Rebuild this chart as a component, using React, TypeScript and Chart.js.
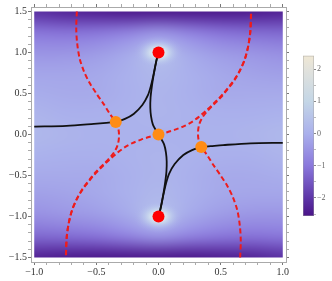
import React, { useEffect, useRef } from 'react';
import { Chart, registerables } from 'chart.js';
Chart.register(...registerables);

// ---------- background field ----------
const fieldX = [-1, -0.75, -0.5, -0.25, 0, 0.25, 0.5, 0.75, 1];
const fieldY = [1.5, 1.25, 1, 0.75, 0.5, 0.25, 0, -0.25, -0.5, -0.75, -1, -1.25, -1.5];
const fieldValues = [
  [-2.1, -2.3, -2.4, -2.5, -2.5, -2.5, -2.5, -2.45, -2.35],
  [-1.05, -1.1, -1.05, -0.85, -0.55, -0.85, -1.1, -1.2, -1.25],
  [-0.5, -0.5, -0.4, -0.15, 0.4, -0.15, -0.4, -0.5, -0.6],
  [-0.2, -0.2, -0.15, 0.0, 0.2, 0.0, -0.15, -0.25, -0.3],
  [-0.05, -0.1, -0.1, 0.0, 0.1, 0.0, -0.1, -0.1, -0.1],
  [0.1, 0.0, 0.0, 0.05, 0.1, 0.05, 0.0, 0.0, 0.05],
  [0.2, 0.1, 0.05, 0.05, 0.05, 0.05, 0.05, 0.1, 0.2],
  [0.05, 0.0, 0.0, 0.05, 0.1, 0.05, 0.0, 0.0, 0.1],
  [-0.1, -0.1, -0.1, 0.0, 0.1, 0.0, -0.1, -0.1, -0.05],
  [-0.3, -0.25, -0.15, 0.0, 0.2, 0.0, -0.15, -0.2, -0.2],
  [-0.6, -0.5, -0.4, -0.15, 0.4, -0.15, -0.4, -0.5, -0.5],
  [-1.25, -1.2, -1.1, -0.85, -0.55, -0.85, -1.05, -1.1, -1.05],
  [-2.35, -2.45, -2.5, -2.5, -2.5, -2.5, -2.4, -2.3, -2.1],
];

// colour scale
const cmapValues = [-2.56, -2.0, -1.0, 0.0, 1.0, 2.0, 2.41];
const cmapColors = ['#4a1488', '#5e36a8', '#8a78dc', '#aab0ec', '#c4d6e6', '#e2e2dc', '#f0e8d4'];
const colorbarTicks = [-2, -1, 0, 1, 2];
const colorbarMinor = [-2.5, -1.5, -0.5, 0.5, 1.5];

// ---------- points ----------
const zerosX = [0, 0];
const zerosY = [1, -1];
const saddlesX = [-0.344, 0, 0.344];
const saddlesY = [0.152, 0, -0.152];

// ---------- black curves ----------
const blackTailLeft: number[][] = [[-1, 0.097], [-0.74, 0.105], [-0.52, 0.129], [-0.42, 0.142], [-0.344, 0.152]];
const blackTailRight: number[][] = [[0.344, -0.152], [0.42, -0.142], [0.52, -0.129], [0.74, -0.108], [1, -0.102]];
const blackLeftToTop: number[][] = [[-0.344, 0.152], [-0.27, 0.19], [-0.2, 0.25], [-0.13, 0.36], [-0.085, 0.48], [-0.06, 0.6], [-0.04, 0.73], [-0.02, 0.88], [0, 1]];
const blackRightToBottom: number[][] = [[0.344, -0.152], [0.27, -0.19], [0.2, -0.25], [0.13, -0.36], [0.085, -0.48], [0.06, -0.6], [0.04, -0.73], [0.02, -0.88], [0, -1]];
const blackCenterToTop: number[][] = [[0, 0], [-0.02, 0.05], [-0.045, 0.12], [-0.06, 0.22], [-0.066, 0.33], [-0.064, 0.45], [-0.055, 0.57], [-0.042, 0.7], [-0.025, 0.84], [-0.01, 0.95], [0, 1]];
const blackCenterToBottom: number[][] = [[0, 0], [0.02, -0.05], [0.045, -0.12], [0.06, -0.22], [0.066, -0.33], [0.064, -0.45], [0.055, -0.57], [0.042, -0.7], [0.025, -0.84], [0.01, -0.95], [0, -1]];

// ---------- red dashed curves ----------
const redTopLeft: number[][] = [[-0.657, 1.5], [-0.662, 1.3], [-0.655, 1.12], [-0.635, 0.93], [-0.6, 0.77], [-0.555, 0.63], [-0.5, 0.5], [-0.445, 0.38], [-0.395, 0.26], [-0.344, 0.152]];
const redLeftDown: number[][] = [[-0.344, 0.152], [-0.322, 0.06], [-0.318, -0.03], [-0.327, -0.12], [-0.35, -0.2], [-0.39, -0.28], [-0.44, -0.36], [-0.5, -0.45], [-0.555, -0.55], [-0.61, -0.66], [-0.655, -0.78], [-0.695, -0.92], [-0.722, -1.08], [-0.738, -1.25], [-0.745, -1.5]];
const redCenterLeft: number[][] = [[0, 0], [-0.07, -0.028], [-0.14, -0.062], [-0.21, -0.105], [-0.27, -0.155], [-0.325, -0.215], [-0.375, -0.28], [-0.425, -0.35], [-0.475, -0.425], [-0.525, -0.505], [-0.57, -0.59], [-0.615, -0.68], [-0.657, -0.785], [-0.696, -0.925], [-0.723, -1.085], [-0.739, -1.255], [-0.746, -1.5]];
const redBottomRight: number[][] = [[0.657, -1.5], [0.662, -1.3], [0.655, -1.12], [0.635, -0.93], [0.6, -0.77], [0.555, -0.63], [0.5, -0.5], [0.445, -0.38], [0.395, -0.26], [0.344, -0.152]];
const redRightUp: number[][] = [[0.344, -0.152], [0.322, -0.06], [0.318, 0.03], [0.327, 0.12], [0.35, 0.2], [0.39, 0.28], [0.44, 0.36], [0.5, 0.45], [0.555, 0.55], [0.61, 0.66], [0.655, 0.78], [0.695, 0.92], [0.722, 1.08], [0.738, 1.25], [0.745, 1.5]];
const redCenterRight: number[][] = [[0, 0], [0.07, 0.028], [0.14, 0.062], [0.21, 0.105], [0.27, 0.155], [0.325, 0.215], [0.375, 0.28], [0.425, 0.35], [0.475, 0.425], [0.525, 0.505], [0.57, 0.59], [0.615, 0.68], [0.657, 0.785], [0.696, 0.925], [0.723, 1.085], [0.739, 1.255], [0.746, 1.5]];

// axis ticks
const xMajorTicks = [-1, -0.5, 0, 0.5, 1];
const yMajorTicks = [-1.5, -1, -0.5, 0, 0.5, 1, 1.5];

const X_MIN = -1.026, X_MAX = 1.026, Y_MIN = -1.555, Y_MAX = 1.555;
const FONT = 'Liberation Serif';
const GLOW_R = 0.2;

function hexToRgb(h: string) {
  const n = parseInt(h.slice(1), 16);
  return [(n >> 16) & 255, (n >> 8) & 255, n & 255];
}
function colorAt(v: number) {
  const vs = cmapValues;
  if (v <= vs[0]) return hexToRgb(cmapColors[0]);
  if (v >= vs[vs.length - 1]) return hexToRgb(cmapColors[vs.length - 1]);
  for (let i = 0; i < vs.length - 1; i++) {
    if (v >= vs[i] && v <= vs[i + 1]) {
      const t = (v - vs[i]) / (vs[i + 1] - vs[i]);
      const a = hexToRgb(cmapColors[i]);
      const b = hexToRgb(cmapColors[i + 1]);
      return [0, 1, 2].map((k) => Math.round(a[k] + (b[k] - a[k]) * t));
    }
  }
  return [0, 0, 0];
}

function minorTicks(lo: number, hi: number, step: number) {
  const out: number[] = [];
  const n = Math.round((hi - lo) / step);
  for (let i = 0; i <= n; i++) out.push(Math.round((lo + i * step) * 1000) / 1000);
  return out;
}
const isMajor = (v: number, majors: number[]) => majors.some((m) => Math.abs(m - v) < 1e-6);
const fmt = (v: number) => (Math.abs(v) < 1e-9 ? '0.0' : v.toFixed(1).replace('-', '\u2212'));

const heatmapPlugin = {
  id: 'heatmap',
  beforeDatasetsDraw(chart: any) {
    const { ctx } = chart;
    const xs = chart.scales.x;
    const ys = chart.scales.y;
    const nx = fieldX.length;
    const ny = fieldY.length;
    const off = document.createElement('canvas');
    off.width = nx;
    off.height = ny;
    const octx = off.getContext('2d')!;
    const img = octx.createImageData(nx, ny);
    for (let r = 0; r < ny; r++) {
      for (let c = 0; c < nx; c++) {
        const col = colorAt(fieldValues[r][c]);
        const idx = (r * nx + c) * 4;
        img.data[idx] = col[0];
        img.data[idx + 1] = col[1];
        img.data[idx + 2] = col[2];
        img.data[idx + 3] = 255;
      }
    }
    octx.putImageData(img, 0, 0);
    const hx = (fieldX[1] - fieldX[0]) / 2;
    const hy = (fieldY[0] - fieldY[1]) / 2;
    const left = xs.getPixelForValue(fieldX[0] - hx);
    const right = xs.getPixelForValue(fieldX[nx - 1] + hx);
    const top = ys.getPixelForValue(fieldY[0] + hy);
    const bottom = ys.getPixelForValue(fieldY[ny - 1] - hy);
    const cl = xs.getPixelForValue(fieldX[0]);
    const cr = xs.getPixelForValue(fieldX[nx - 1]);
    const ct = ys.getPixelForValue(fieldY[0]);
    const cb = ys.getPixelForValue(fieldY[ny - 1]);
    ctx.save();
    ctx.beginPath();
    ctx.rect(cl, ct, cr - cl, cb - ct);
    ctx.clip();
    ctx.imageSmoothingEnabled = true;
    (ctx as any).imageSmoothingQuality = 'high';
    ctx.drawImage(off, left, top, right - left, bottom - top);
    for (let i = 0; i < zerosX.length; i++) {
      const cx = xs.getPixelForValue(zerosX[i]);
      const cy = ys.getPixelForValue(zerosY[i]);
      const rx = xs.getPixelForValue(zerosX[i] + GLOW_R) - cx;
      const ry = cy - ys.getPixelForValue(zerosY[i] + GLOW_R);
      ctx.save();
      ctx.translate(cx, cy);
      ctx.scale(1, ry / rx);
      const g = ctx.createRadialGradient(0, 0, 0, 0, 0, rx);
      g.addColorStop(0, 'rgba(236,242,238,1)');
      g.addColorStop(0.3, 'rgba(218,232,238,0.9)');
      g.addColorStop(0.55, 'rgba(196,212,238,0.55)');
      g.addColorStop(0.8, 'rgba(180,190,238,0.2)');
      g.addColorStop(1, 'rgba(170,176,236,0)');
      ctx.fillStyle = g;
      ctx.beginPath();
      ctx.arc(0, 0, rx, 0, Math.PI * 2);
      ctx.fill();
      ctx.restore();
    }
    ctx.restore();
  },
};

const colorbarPlugin = {
  id: 'colorbar',
  beforeDatasetsDraw(chart: any) {
    const { ctx, chartArea } = chart;
    const ys = chart.scales.y;
    const g = ctx.createLinearGradient(0, chartArea.bottom, 0, chartArea.top);
    const h = chartArea.bottom - chartArea.top;
    cmapValues.forEach((v, i) => {
      const p = (chartArea.bottom - ys.getPixelForValue(v)) / h;
      g.addColorStop(Math.min(1, Math.max(0, p)), cmapColors[i]);
    });
    ctx.save();
    ctx.fillStyle = g;
    ctx.fillRect(chartArea.left, chartArea.top, chartArea.right - chartArea.left, h);
    ctx.strokeStyle = 'rgba(160,160,160,0.7)';
    ctx.lineWidth = 0.6;
    ctx.strokeRect(chartArea.left + 0.3, chartArea.top + 0.3, chartArea.right - chartArea.left - 0.6, h - 0.6);
    ctx.restore();
  },
};

const toPts = (arr: number[][]) => arr.map((p) => ({ x: p[0], y: p[1] }));
const lineDs = (arr: number[][], color: string, dashed: boolean, order: number) => ({
  type: 'scatter' as const,
  data: toPts(arr),
  showLine: true,
  pointRadius: 0,
  pointHoverRadius: 0,
  borderColor: color,
  borderWidth: dashed ? 2 : 1.8,
  borderDash: dashed ? [5, 3] : [],
  tension: 0.3,
  fill: false,
  order,
});

function axisX(position: 'bottom' | 'top', showLabels: boolean, size: number) {
  const ticksAll = minorTicks(-1, 1, 0.1);
  return {
    type: 'linear' as const,
    position,
    min: X_MIN,
    max: X_MAX,
    afterBuildTicks: (s: any) => {
      s.ticks = ticksAll.map((v) => ({ value: v }));
    },
    afterFit: (s: any) => {
      s.height = size;
    },
    ticks: {
      autoSkip: false,
      maxRotation: 0,
      padding: 1,
      color: '#333',
      font: { family: FONT, size: 10 },
      callback: (v: any) => (showLabels && isMajor(Number(v), xMajorTicks) ? fmt(Number(v)) : ''),
    },
    grid: {
      drawOnChartArea: false,
      drawTicks: true,
      tickLength: 3,
      tickColor: (c: any) => (c.tick && isMajor(c.tick.value, xMajorTicks) ? '#777' : '#aaa'),
    },
    border: { display: true, color: '#aaa', width: 1 },
  };
}
function axisY(position: 'left' | 'right', showLabels: boolean, size: number) {
  const ticksAll = minorTicks(-1.5, 1.5, 0.1);
  return {
    type: 'linear' as const,
    position,
    min: Y_MIN,
    max: Y_MAX,
    afterBuildTicks: (s: any) => {
      s.ticks = ticksAll.map((v) => ({ value: v }));
    },
    afterFit: (s: any) => {
      s.width = size;
    },
    ticks: {
      autoSkip: false,
      padding: 1,
      color: '#333',
      font: { family: FONT, size: 10 },
      callback: (v: any) => (showLabels && isMajor(Number(v), yMajorTicks) ? fmt(Number(v)) : ''),
    },
    grid: {
      drawOnChartArea: false,
      drawTicks: true,
      tickLength: 3,
      tickColor: (c: any) => (c.tick && isMajor(c.tick.value, yMajorTicks) ? '#777' : '#aaa'),
    },
    border: { display: true, color: '#aaa', width: 1 },
  };
}

export default function App() {
  const mainRef = useRef<HTMLCanvasElement>(null);
  const cbRef = useRef<HTMLCanvasElement>(null);

  useEffect(() => {
    const datasets: any[] = [
      lineDs(redTopLeft, '#ee1c1c', true, 3),
      lineDs(redLeftDown, '#ee1c1c', true, 3),
      lineDs(redCenterLeft, '#ee1c1c', true, 3),
      lineDs(redBottomRight, '#ee1c1c', true, 3),
      lineDs(redRightUp, '#ee1c1c', true, 3),
      lineDs(redCenterRight, '#ee1c1c', true, 3),
      lineDs(blackTailLeft, '#111111', false, 2),
      lineDs(blackTailRight, '#111111', false, 2),
      lineDs(blackLeftToTop, '#111111', false, 2),
      lineDs(blackRightToBottom, '#111111', false, 2),
      lineDs(blackCenterToTop, '#111111', false, 2),
      lineDs(blackCenterToBottom, '#111111', false, 2),
      {
        type: 'scatter',
        data: zerosX.map((v, i) => ({ x: v, y: zerosY[i] })),
        pointRadius: 6,
        pointHoverRadius: 6,
        pointBackgroundColor: '#ff0000',
        pointBorderWidth: 0,
        borderWidth: 0,
        showLine: false,
        order: 0,
      },
      {
        type: 'scatter',
        data: saddlesX.map((v, i) => ({ x: v, y: saddlesY[i] })),
        pointRadius: 6,
        pointHoverRadius: 6,
        pointBackgroundColor: '#ff8c14',
        pointBorderWidth: 0,
        borderWidth: 0,
        showLine: false,
        order: 0,
      },
    ];

    const main = new Chart(mainRef.current!, {
      type: 'scatter',
      data: { datasets },
      options: {
        animation: false,
        responsive: false,
        events: [],
        layout: { padding: 0 },
        plugins: { legend: { display: false }, tooltip: { enabled: false } },
        scales: {
          x: axisX('bottom', true, 19),
          x2: axisX('top', false, 5),
          y: axisY('left', true, 31),
          y2: axisY('right', false, 46),
        } as any,
      },
      plugins: [heatmapPlugin],
    } as any);

    const cbTicksAll = [...colorbarTicks, ...colorbarMinor].sort((a, b) => a - b);
    const cb = new Chart(cbRef.current!, {
      type: 'scatter',
      data: { datasets: [] },
      options: {
        animation: false,
        responsive: false,
        events: [],
        layout: { padding: { left: 7, top: 5, bottom: 6, right: 0 } },
        plugins: { legend: { display: false }, tooltip: { enabled: false } },
        scales: {
          x: { display: false, min: 0, max: 1 },
          y: {
            position: 'right',
            min: cmapValues[0],
            max: cmapValues[cmapValues.length - 1],
            afterBuildTicks: (s: any) => {
              s.ticks = cbTicksAll.map((v) => ({ value: v }));
            },
            afterFit: (s: any) => {
              s.width = 18;
            },
            ticks: {
              autoSkip: false,
              padding: 1,
              color: '#666',
              font: { family: FONT, size: 8 },
              callback: (v: any) =>
                isMajor(Number(v), colorbarTicks) ? String(Math.round(Number(v))).replace('-', '\u2212') : '',
            },
            grid: {
              drawOnChartArea: false,
              drawTicks: true,
              tickLength: 2,
              tickColor: (c: any) => (c.tick && isMajor(c.tick.value, colorbarTicks) ? '#888' : '#bbb'),
            },
            border: { display: false },
          },
        } as any,
      },
      plugins: [colorbarPlugin],
    } as any);

    return () => {
      main.destroy();
      cb.destroy();
    };
  }, []);

  return (
    <div style={{ position: 'fixed', left: 0, top: 0, width: 332, height: 281, background: '#fff' }}>
      <canvas ref={mainRef} width={332} height={281} style={{ position: 'absolute', left: 0, top: 0 }} />
      <canvas ref={cbRef} width={36} height={172} style={{ position: 'absolute', left: 296, top: 50 }} />
    </div>
  );
}
